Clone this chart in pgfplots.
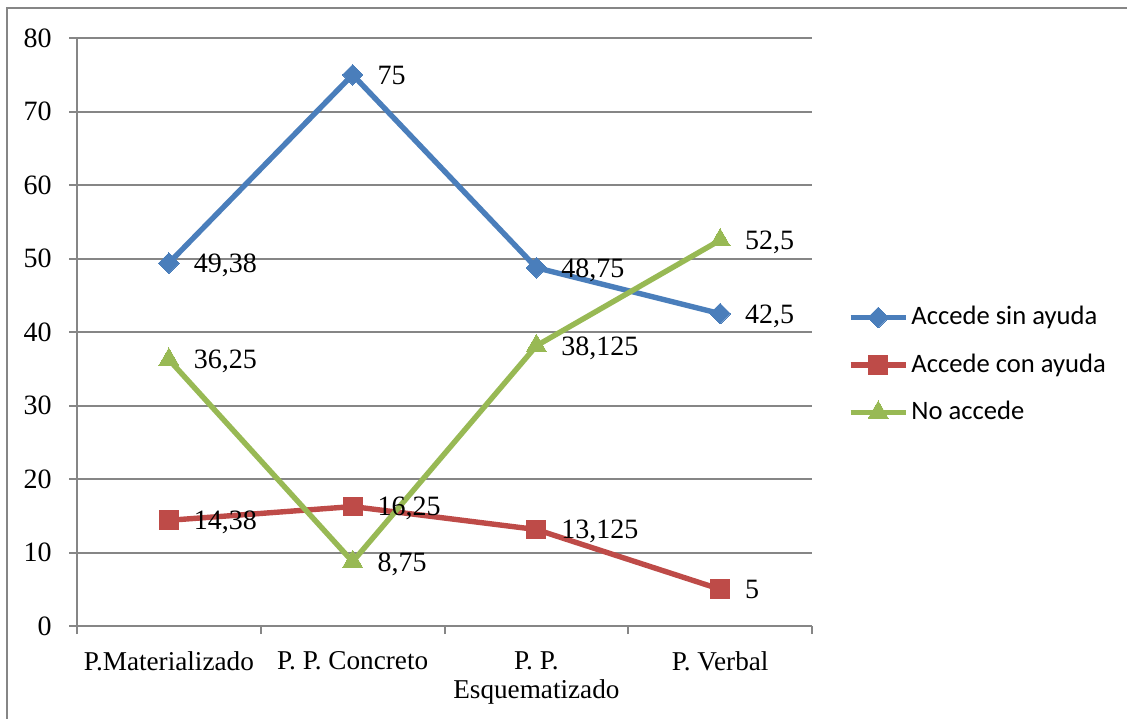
\documentclass[border=0pt]{standalone}
\usepackage{fontspec}
\setmainfont{Liberation Serif}
\newfontfamily\legfont{Carlito}
\usepackage{pgfplots}
\pgfplotsset{compat=1.18}
\usepackage{pgfplotstable}
\definecolor{cblue}{RGB}{74,126,187}
\definecolor{cred}{RGB}{190,75,72}
\definecolor{cgreen}{RGB}{152,185,84}
\definecolor{cgrid}{RGB}{134,134,134}
\pgfplotstableread{
x y lab
0 49.38 49,38
1 75 75
2 48.75 48,75
3 42.5 42,5
}\sinayuda
\pgfplotstableread{
x y lab
0 14.38 14,38
1 16.25 16,25
2 13.125 13,125
3 5 5
}\conayuda
\pgfplotstableread{
x y lab
0 36.25 36,25
1 8.75 8,75
2 38.125 38,125
3 52.5 52,5
}\noaccede
\begin{document}
\begin{tikzpicture}
\useasboundingbox (-38.5pt,-46pt) rectangle (525pt,313pt);
\begin{axis}[
  at={(0,0)}, anchor=south west,
  width=367.5pt, height=294pt, scale only axis,
  xmin=-0.5, xmax=3.5, ymin=0, ymax=80,
  clip=false,
  axis lines=left,
  axis line style={-, draw=cgrid, line width=1pt},
  tick align=outside,
  major tick length=4pt,
  tick style={draw=cgrid, line width=1pt},
  xtick={-0.5,0.5,1.5,2.5,3.5},
  xticklabels={},
  extra x ticks={0,1,2,3},
  extra x tick labels={P.Materializado,P.\ P.\ Concreto,{P.\ P.\\Esquematizado},P.\ Verbal},
  extra x tick style={major tick length=0pt},
  xticklabel style={font=\fontsize{13.6}{14.8}\selectfont, inner sep=0pt, anchor=north, align=center, yshift=-12.5pt},
  ytick={0,10,...,80},
  ymajorgrids,
  grid style={draw=cgrid, line width=1pt},
  yticklabel style={font=\fontsize{14}{15}\selectfont, inner sep=0pt, anchor=east, text height=9.4pt, text depth=0pt, xshift=-8.5pt},
  /pgf/number format/assume math mode=true,
  nodes near coords,
  point meta=explicit symbolic,
  every node near coord/.style={anchor=west, xshift=12.5pt, inner sep=0pt, text height=9.4pt, text depth=0pt, text=black, font=\fontsize{14}{15}\selectfont},
  legend image code/.code={\draw[mark repeat=2,mark phase=2,#1] plot coordinates {(0pt,0pt)(13.75pt,0pt)(27.5pt,0pt)};},
  legend style={at={(1.049,0.4439)}, anchor=west, draw=none, fill=none, inner sep=0pt, outer sep=0pt,
    font=\legfont\fontsize{13.3}{15}\selectfont,
    nodes={inner sep=0pt, text height=10.5pt, text depth=3pt},
    row sep=10.25pt,
    /tikz/every odd column/.append style={column sep=1.5pt}},
  legend cell align=left,
]
\addplot[cblue, line width=2.7pt, mark=square*, mark size=3.65pt, mark options={rotate=45, fill=cblue, draw=cblue, line width=0pt}]
  table[x=x, y=y, meta=lab] {\sinayuda};
\addlegendentry{Accede sin ayuda}
\addplot[cred, line width=2.7pt, mark=square*, mark size=4.7pt, mark options={fill=cred, draw=cred, line width=0pt}]
  table[x=x, y=y, meta=lab] {\conayuda};
\addlegendentry{Accede con ayuda}
\addplot[cgreen, line width=2.7pt, mark=triangle*, mark size=5.8pt, mark options={fill=cgreen, draw=cgreen, line width=0pt}]
  table[x=x, y=y, meta=lab] {\noaccede};
\addlegendentry{No accede}
\end{axis}
\draw[cgrid, line width=0.75pt] (-35pt,-60pt) -- (-35pt,309pt) -- (540pt,309pt);
\end{tikzpicture}
\end{document}
